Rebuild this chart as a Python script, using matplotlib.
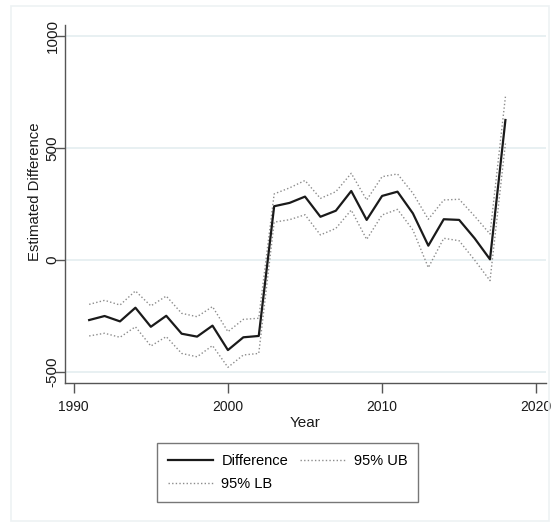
import matplotlib
matplotlib.use("Agg")
from matplotlib import pyplot as plt
from matplotlib.patches import Rectangle

plt.rcParams['font.family'] = ['Liberation Sans', 'DejaVu Sans']

years = list(range(1991, 2019))
difference = [-268, -250, -274, -213, -298, -249, -329, -342, -293, -402, -345, -339,
              240, 255, 283, 193, 220, 308, 179, 286, 305, 208, 64, 182, 179, 97, 3, 625]
upper_95 = [-198, -180, -201, -138, -205, -161, -238, -253, -208, -320, -265, -260,
            295, 322, 355, 275, 305, 387, 268, 372, 384, 298, 182, 268, 271, 196, 116, 729]
lower_95 = [-339, -327, -345, -298, -384, -342, -417, -432, -382, -479, -424, -417,
            169, 180, 202, 112, 141, 223, 92, 201, 226, 134, -34, 97, 86, 0, -92, 520]

x_ticks = [1990, 2000, 2010, 2020]
y_ticks = [-500, 0, 500, 1000]

W, H = 556, 523
fig = plt.figure(figsize=(W / 100, H / 100), dpi=100)
fig.patch.set_facecolor('white')

# thin light frame around the whole graph region
fig.add_artist(Rectangle((11 / W, 1 - 521 / H), 538 / W, 515 / H,
                         transform=fig.transFigure, fill=False,
                         edgecolor='#edf2f4', linewidth=1.2))

ax = fig.add_axes([64.5 / W, 1 - 383 / H, 481 / W, 358 / H])

dot = (0, (1, 1.6))
ax.plot(years, difference, color='#1a1a1a', linewidth=1.6, label='Difference', zorder=3)
ax.plot(years, lower_95, color='#8c8c8c', linewidth=1.0, linestyle=dot, label='95% LB')
ax.plot(years, upper_95, color='#8c8c8c', linewidth=1.0, linestyle=dot, label='95% UB')

ax.set_xlim(1989.4, 2020.6)
ax.set_ylim(-549, 1049)
ax.set_xticks(x_ticks)
ax.set_yticks(y_ticks)
ax.set_yticklabels([str(v) for v in y_ticks], rotation=90, va='center', ha='center')
ax.grid(axis='y', color='#e6eff1', linewidth=1.3)
ax.set_axisbelow(True)

for s in ['top', 'right']:
    ax.spines[s].set_visible(False)
for s in ['left', 'bottom']:
    ax.spines[s].set_color('#555555')
    ax.spines[s].set_linewidth(1.0)
ax.tick_params(direction='out', length=7, width=1, color='#555555',
               labelcolor='#1a1a1a', labelsize=11)
ax.tick_params(axis='x', pad=5, labelsize=10)
ax.tick_params(axis='y', pad=1.5)

ax.set_xlabel('Year', fontsize=11, color='#1a1a1a', labelpad=2)
ax.set_ylabel('Estimated Difference', fontsize=10.7, color='#1a1a1a')
ax.yaxis.set_label_coords(-0.046, 0.535)

handles, labels = ax.get_legend_handles_labels()
leg = fig.legend(handles, labels, ncol=2, loc='center',
                 bbox_to_anchor=(287.5 / W, 1 - 472.5 / H),
                 frameon=True, fancybox=False, edgecolor='#555555',
                 fontsize=10.5, handlelength=3.1, handletextpad=0.6,
                 columnspacing=0.8, borderpad=0.75, labelspacing=0.6)
leg.get_frame().set_linewidth(1.0)

fig.savefig('out.png', dpi=100)
